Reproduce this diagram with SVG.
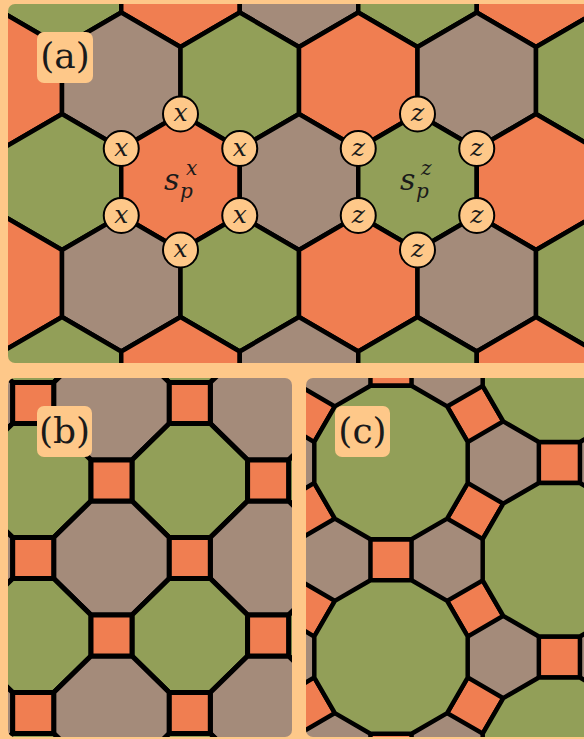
<svg xmlns="http://www.w3.org/2000/svg" width="584" height="739" viewBox="0 0 584 739">
<style>
.bg{fill:#FEC889}
.o{fill:#F07E51}
.g{fill:#929F58}
.y{fill:#A48B7A}
.t{stroke:#000;stroke-width:4.5;stroke-linejoin:round}
.tb{stroke:#000;stroke-width:5;stroke-linejoin:round}
.box{fill:#FEC889}
.lbl{font-size:36px;text-anchor:middle;fill:#1a1a1a}
.site circle{fill:#FEC889;stroke:#000;stroke-width:2}
.site text{font-style:italic;font-size:25px;text-anchor:middle;fill:#1a1a1a}
.m{font-style:italic;fill:#1a1a1a}
</style>
<defs>
<clipPath id="ca"><rect x="8" y="4" width="600" height="359" rx="7"/></clipPath>
<clipPath id="cb"><rect x="8" y="378" width="284" height="359" rx="7"/></clipPath>
<clipPath id="cc"><rect x="306" y="378" width="300" height="359" rx="7"/></clipPath>
<polygon id="hx" points="0,-68 59.25,-33.5 59.25,33.5 0,68 -59.25,33.5 -59.25,-33.5"/>
<polygon id="oc" points="-20.5,-57 20.5,-57 57.8,-20.5 57.8,20.5 20.5,57 -20.5,57 -57.8,20.5 -57.8,-20.5"/>
<rect id="sq" x="-20.5" y="-20.5" width="41" height="41"/>
<polygon id="dd" points="76.7,20.55 56.15,56.15 20.55,76.7 -20.55,76.7 -56.15,56.15 -76.7,20.55 -76.7,-20.55 -56.15,-56.15 -20.55,-76.7 20.55,-76.7 56.15,-56.15 76.7,-20.55"/>
<rect id="sq2" x="-20.55" y="-20.55" width="41.1" height="41.1"/>
</defs>
<rect class="bg" x="0" y="0" width="584" height="739"/>

<g id="panel-a" clip-path="url(#ca)">
<g id="hexes" class="t">
<use href="#hx" class="g" x="62" y="-21"/><use href="#hx" class="o" x="180.5" y="-21"/><use href="#hx" class="y" x="299" y="-21"/><use href="#hx" class="g" x="417.5" y="-21"/><use href="#hx" class="o" x="536" y="-21"/>
<use href="#hx" class="o" x="2.75" y="80.5"/><use href="#hx" class="y" x="121.25" y="80.5"/><use href="#hx" class="g" x="239.75" y="80.5"/><use href="#hx" class="o" x="358.25" y="80.5"/><use href="#hx" class="y" x="476.75" y="80.5"/><use href="#hx" class="g" x="595.25" y="80.5"/>
<use href="#hx" class="g" x="62" y="182"/><use href="#hx" class="o" x="180.5" y="182"/><use href="#hx" class="y" x="299" y="182"/><use href="#hx" class="g" x="417.5" y="182"/><use href="#hx" class="o" x="536" y="182"/>
<use href="#hx" class="o" x="2.75" y="283.5"/><use href="#hx" class="y" x="121.25" y="283.5"/><use href="#hx" class="g" x="239.75" y="283.5"/><use href="#hx" class="o" x="358.25" y="283.5"/><use href="#hx" class="y" x="476.75" y="283.5"/><use href="#hx" class="g" x="595.25" y="283.5"/>
<use href="#hx" class="g" x="62" y="385"/><use href="#hx" class="o" x="180.5" y="385"/><use href="#hx" class="y" x="299" y="385"/><use href="#hx" class="g" x="417.5" y="385"/><use href="#hx" class="o" x="536" y="385"/>
</g>
</g>

<g id="texts" font-family="'DejaVu Serif', 'Liberation Serif', serif">
<g id="plaquette-x">
<text class="m" x="164" y="190" font-size="30">s</text>
<text class="m" x="186" y="175" font-size="20">x</text>
<text class="m" x="180" y="198" font-size="20">p</text>
</g>
<g id="plaquette-z">
<text class="m" x="400" y="190" font-size="30">s</text>
<text class="m" x="421" y="175" font-size="20">z</text>
<text class="m" x="416" y="198" font-size="20">p</text>
</g>
<g id="sites-x" class="site">
<g id="x1"><circle cx="180.5" cy="114" r="17.5"/><text x="180.5" y="121">x</text></g>
<g id="x2"><circle cx="239.75" cy="148.5" r="17.5"/><text x="239.75" y="155.5">x</text></g>
<g id="x3"><circle cx="239.75" cy="215.5" r="17.5"/><text x="239.75" y="222.5">x</text></g>
<g id="x4"><circle cx="180.5" cy="250" r="17.5"/><text x="180.5" y="257">x</text></g>
<g id="x5"><circle cx="121.25" cy="215.5" r="17.5"/><text x="121.25" y="222.5">x</text></g>
<g id="x6"><circle cx="121.25" cy="148.5" r="17.5"/><text x="121.25" y="155.5">x</text></g>
</g>
<g id="sites-z" class="site">
<g id="z1"><circle cx="417.5" cy="114" r="17.5"/><text x="417.5" y="121">z</text></g>
<g id="z2"><circle cx="476.75" cy="148.5" r="17.5"/><text x="476.75" y="155.5">z</text></g>
<g id="z3"><circle cx="476.75" cy="215.5" r="17.5"/><text x="476.75" y="222.5">z</text></g>
<g id="z4"><circle cx="417.5" cy="250" r="17.5"/><text x="417.5" y="257">z</text></g>
<g id="z5"><circle cx="358.25" cy="215.5" r="17.5"/><text x="358.25" y="222.5">z</text></g>
<g id="z6"><circle cx="358.25" cy="148.5" r="17.5"/><text x="358.25" y="155.5">z</text></g>
</g>
</g>

<g id="panel-b" clip-path="url(#cb)">
<g id="octagons" class="tb">
<use href="#oc" class="g" x="33.2" y="325.5"/><use href="#oc" class="g" x="189.8" y="325.5"/><use href="#oc" class="g" x="346.4" y="325.5"/>
<use href="#oc" class="y" x="-45.1" y="403"/><use href="#oc" class="y" x="111.5" y="403"/><use href="#oc" class="y" x="268.1" y="403"/>
<use href="#oc" class="g" x="33.2" y="480.5"/><use href="#oc" class="g" x="189.8" y="480.5"/><use href="#oc" class="g" x="346.4" y="480.5"/>
<use href="#oc" class="y" x="-45.1" y="558"/><use href="#oc" class="y" x="111.5" y="558"/><use href="#oc" class="y" x="268.1" y="558"/>
<use href="#oc" class="g" x="33.2" y="635.5"/><use href="#oc" class="g" x="189.8" y="635.5"/><use href="#oc" class="g" x="346.4" y="635.5"/>
<use href="#oc" class="y" x="-45.1" y="713"/><use href="#oc" class="y" x="111.5" y="713"/><use href="#oc" class="y" x="268.1" y="713"/>
<use href="#oc" class="g" x="33.2" y="790.5"/><use href="#oc" class="g" x="189.8" y="790.5"/><use href="#oc" class="g" x="346.4" y="790.5"/>
</g>
<g id="squares-b" class="tb o">
<use href="#sq" x="33.2" y="403"/><use href="#sq" x="189.8" y="403"/>
<use href="#sq" x="111.5" y="480.5"/><use href="#sq" x="268.1" y="480.5"/>
<use href="#sq" x="33.2" y="558"/><use href="#sq" x="189.8" y="558"/>
<use href="#sq" x="111.5" y="635.5"/><use href="#sq" x="268.1" y="635.5"/>
<use href="#sq" x="33.2" y="713"/><use href="#sq" x="189.8" y="713"/>
</g>
</g>

<g id="panel-c" clip-path="url(#cc)">
<rect class="y" x="306" y="378" width="300" height="361"/>
<g id="squares-c" class="t o">
<use href="#sq2" transform="translate(391,365.25)"/>
<use href="#sq2" transform="translate(391,559.75)"/>
<use href="#sq2" transform="translate(391,754.25)"/>
<use href="#sq2" transform="translate(559.4,462.5)"/>
<use href="#sq2" transform="translate(559.4,657)"/>
<use href="#sq2" transform="translate(306.8,413.9) rotate(30)"/>
<use href="#sq2" transform="translate(306.8,608.4) rotate(30)"/>
<use href="#sq2" transform="translate(475.2,511.1) rotate(30)"/>
<use href="#sq2" transform="translate(475.2,705.6) rotate(30)"/>
<use href="#sq2" transform="translate(306.8,511.1) rotate(-30)"/>
<use href="#sq2" transform="translate(306.8,705.6) rotate(-30)"/>
<use href="#sq2" transform="translate(475.2,413.9) rotate(-30)"/>
<use href="#sq2" transform="translate(475.2,608.4) rotate(-30)"/>
</g>
<g id="dodecagons" class="t g">
<use href="#dd" x="391" y="462.5"/>
<use href="#dd" x="391" y="657"/>
<use href="#dd" x="559.4" y="365.25"/>
<use href="#dd" x="559.4" y="559.75"/>
<use href="#dd" x="559.4" y="754.25"/>
</g>
</g>

<g id="labels" font-family="'DejaVu Serif', 'Liberation Serif', serif">
<g id="label-a"><rect class="box" x="37" y="32" width="56" height="51" rx="7"/><text class="lbl" x="65" y="68">(a)</text></g>
<g id="label-b"><rect class="box" x="37" y="406" width="55" height="51" rx="7"/><text class="lbl" x="64.5" y="443">(b)</text></g>
<g id="label-c"><rect class="box" x="335" y="406" width="55" height="51" rx="7"/><text class="lbl" x="362.5" y="443">(c)</text></g>
</g>
</svg>
